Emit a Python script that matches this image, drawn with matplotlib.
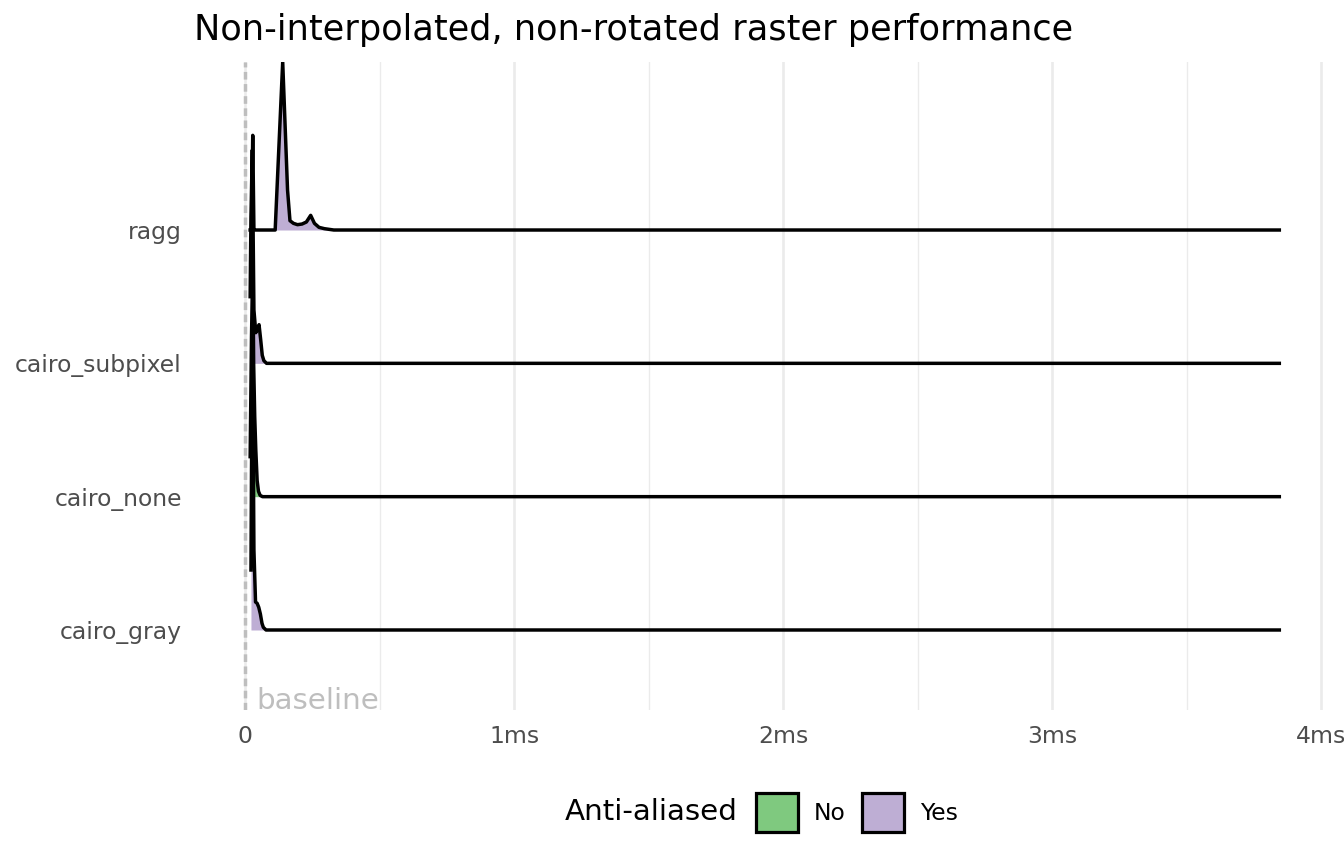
import matplotlib
matplotlib.use("Agg")
import matplotlib.pyplot as plt
from matplotlib.patches import Patch

# Colors (Accent palette)
GREEN = "#7FC97F"
PURPLE = "#BEAED4"
TEXT_GREY = "#4D4D4D"
GRID = "#EBEBEB"

# Ridge categories, bottom to top
devices = ["cairo_gray", "cairo_none", "cairo_subpixel", "ragg"]
anti_aliased = ["Yes", "No", "Yes", "Yes"]

# Density outlines: time (ms) and height (in ridge spacings)
ragg_ms = [0.019, 0.024, 0.0286, 0.033, 0.040, 0.112, 0.140, 0.158, 0.167,
           0.180, 0.195, 0.212, 0.228, 0.244, 0.258, 0.275, 0.295, 0.330, 3.845]
ragg_h = [0.0, 0.0, 0.71, 0.0, 0.0, 0.0, 1.26, 0.30, 0.07,
          0.05, 0.04, 0.045, 0.06, 0.11, 0.05, 0.02, 0.01, 0.0, 0.0]

subpixel_ms = [0.019, 0.022, 0.027, 0.033, 0.040, 0.046, 0.052, 0.058,
               0.064, 0.070, 0.080, 3.845]
subpixel_h = [0.50, 1.10, 1.60, 0.40, 0.23, 0.26, 0.29, 0.18,
              0.06, 0.02, 0.0, 0.0]

none_ms = [0.019, 0.024, 0.029, 0.032, 0.036, 0.040, 0.045, 0.050,
           0.056, 0.065, 3.845]
none_h = [0.30, 1.20, 1.75, 1.00, 0.60, 0.35, 0.12, 0.04,
          0.01, 0.0, 0.0]

gray_ms = [0.022, 0.024, 0.028, 0.033, 0.039, 0.045, 0.051, 0.057,
           0.063, 0.068, 0.078, 3.845]
gray_h = [0.45, 1.20, 2.20, 0.60, 0.21, 0.20, 0.17, 0.12,
          0.05, 0.02, 0.0, 0.0]

ridges = {
    "cairo_gray": (gray_ms, gray_h),
    "cairo_none": (none_ms, none_h),
    "cairo_subpixel": (subpixel_ms, subpixel_h),
    "ragg": (ragg_ms, ragg_h),
}

x_ticks = [0, 1, 2, 3, 4]
x_labels = ["0", "1ms", "2ms", "3ms", "4ms"]
x_minor = [0.5, 1.5, 2.5, 3.5]

fig = plt.figure(figsize=(7.0, 865 / 192), dpi=192)
ax = fig.add_axes([0.1483, 0.1792, 0.8426, 0.7491])

# grid
for xv in x_ticks:
    ax.axvline(xv, color=GRID, lw=1.0, zorder=0)
for xv in x_minor:
    ax.axvline(xv, color=GRID, lw=0.5, zorder=0)

# baseline marker
ax.axvline(0, color="#BEBEBE", lw=1.3, dashes=(2.2, 1.3), zorder=1)
ax.annotate("baseline", xy=(0, 0), xycoords=("data", "axes fraction"),
            xytext=(4.3, 0.2), textcoords="offset points",
            ha="left", va="baseline", fontsize=11, color="#BEBEBE")

# ridges: top one first so lower ridges sit on top
for i in range(len(devices) - 1, -1, -1):
    name = devices[i]
    xs, hs = ridges[name]
    base = i + 1
    tops = [base + h for h in hs]
    color = GREEN if anti_aliased[i] == "No" else PURPLE
    z = 2 + (len(devices) - i)
    ax.fill_between(xs, base, tops, color=color, lw=0, zorder=z)
    ax.plot(xs, tops, color="black", lw=1.3, zorder=z + 0.5,
            solid_joinstyle="round")

ax.set_xlim(-0.17, 4.04)
ax.set_ylim(0.4, 5.26)
ax.set_xticks(x_ticks)
ax.set_xticklabels(x_labels)
ax.set_yticks(range(1, len(devices) + 1))
ax.set_yticklabels(devices)
ax.tick_params(axis="both", length=0, labelsize=8.8, labelcolor=TEXT_GREY)
ax.tick_params(axis="y", pad=6.5)
ax.tick_params(axis="x", pad=5.5)
for s in ax.spines.values():
    s.set_visible(False)

fig.text(194 / 1344, 1 - 30 / 865, "Non-interpolated, non-rotated raster performance",
         ha="left", va="center", fontsize=13.2)

# legend
handles = [Patch(facecolor=GREEN, edgecolor="black", lw=1.2, label="No"),
           Patch(facecolor=PURPLE, edgecolor="black", lw=1.2, label="Yes")]
fig.legend(handles=handles, loc="center", bbox_to_anchor=(857 / 1344, 1 - 812.5 / 865),
           ncol=2, frameon=False, fontsize=8.8, handlelength=1.79, handleheight=2.2,
           handletextpad=0.68, columnspacing=0.72, borderpad=0.2)
fig.text(565 / 1344, 1 - 812.5 / 865, "Anti-aliased", ha="left", va="center", fontsize=11)

fig.savefig("out.png", dpi=192)
